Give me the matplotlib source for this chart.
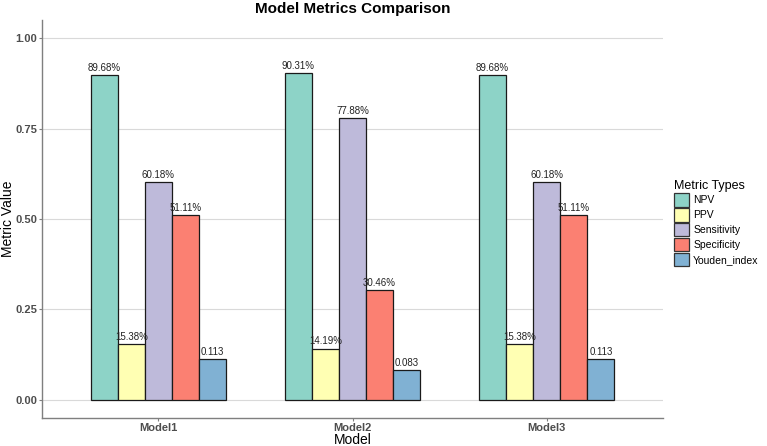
import numpy as np
import matplotlib
matplotlib.use("Agg")
import matplotlib.pyplot as plt
from matplotlib.patches import Patch

models = ["Model1", "Model2", "Model3"]
metrics = ["NPV", "PPV", "Sensitivity", "Specificity", "Youden_index"]
npv = [0.8968, 0.9031, 0.8968]
ppv = [0.1538, 0.1419, 0.1538]
sensitivity = [0.6018, 0.7788, 0.6018]
specificity = [0.5111, 0.3046, 0.5111]
youden = [0.113, 0.083, 0.113]
colors = ["#8DD3C7", "#FFFFB3", "#BEBADA", "#FB8072", "#80B1D3"]

series = [npv, ppv, sensitivity, specificity, youden]

plt.rcParams["font.family"] = ["Liberation Sans", "DejaVu Sans"]
fig = plt.figure(figsize=(7.67, 4.46), dpi=100)
ax = fig.add_axes([42 / 767, 28 / 446, 621 / 767, 398 / 446])

x = np.arange(1, len(models) + 1)
width = 0.7 / len(metrics)
for i, (vals, col) in enumerate(zip(series, colors)):
    pos = x - 0.35 + width * (i + 0.5)
    ax.bar(pos, vals, width=width, color=col, edgecolor="#1a1a1a", linewidth=0.9, zorder=3)
    for p, v in zip(pos, vals):
        lab = "{:.3f}".format(v) if metrics[i] == "Youden_index" else "{:.2f}%".format(v * 100)
        ax.text(p, v + 0.006, lab, ha="center", va="bottom", fontsize=7, color="#222222", zorder=4)

ax.set_xlim(0.4, 3.6)
ax.set_ylim(-0.05, 1.05)
ax.set_xticks(x)
ax.set_xticklabels(models, fontweight="bold", color="#4d4d4d", fontsize=8)
ax.set_yticks([0, 0.25, 0.5, 0.75, 1.0])
ax.set_yticklabels(["0.00", "0.25", "0.50", "0.75", "1.00"], fontweight="bold", color="#4d4d4d", fontsize=8)
ax.yaxis.grid(True, color="#d9d9d9", linewidth=0.8, zorder=0)
ax.set_axisbelow(True)
for s in ["top", "right"]:
    ax.spines[s].set_visible(False)
for s in ["left", "bottom"]:
    ax.spines[s].set_color("#7f7f7f")
    ax.spines[s].set_linewidth(1.0)
ax.tick_params(colors="#7f7f7f", length=2, width=0.8, pad=1.5, labelcolor="#4d4d4d")
ax.set_xlabel("Model", fontsize=10, labelpad=0)
ax.set_ylabel("Metric Value", fontsize=10, labelpad=0)
ax.set_title("Model Metrics Comparison", fontsize=11, fontweight="bold", pad=5)

handles = [Patch(facecolor=c, edgecolor="#333333", linewidth=0.9) for c in colors]
fig.legend(handles, metrics, title="Metric Types", loc="center left",
           bbox_to_anchor=(665 / 767, 0.5), frameon=False, fontsize=7.5,
           title_fontsize=9, handlelength=1.4, handleheight=1.6,
           handletextpad=0.4, labelspacing=0.15, alignment="left")

fig.savefig("out.png", dpi=100)
